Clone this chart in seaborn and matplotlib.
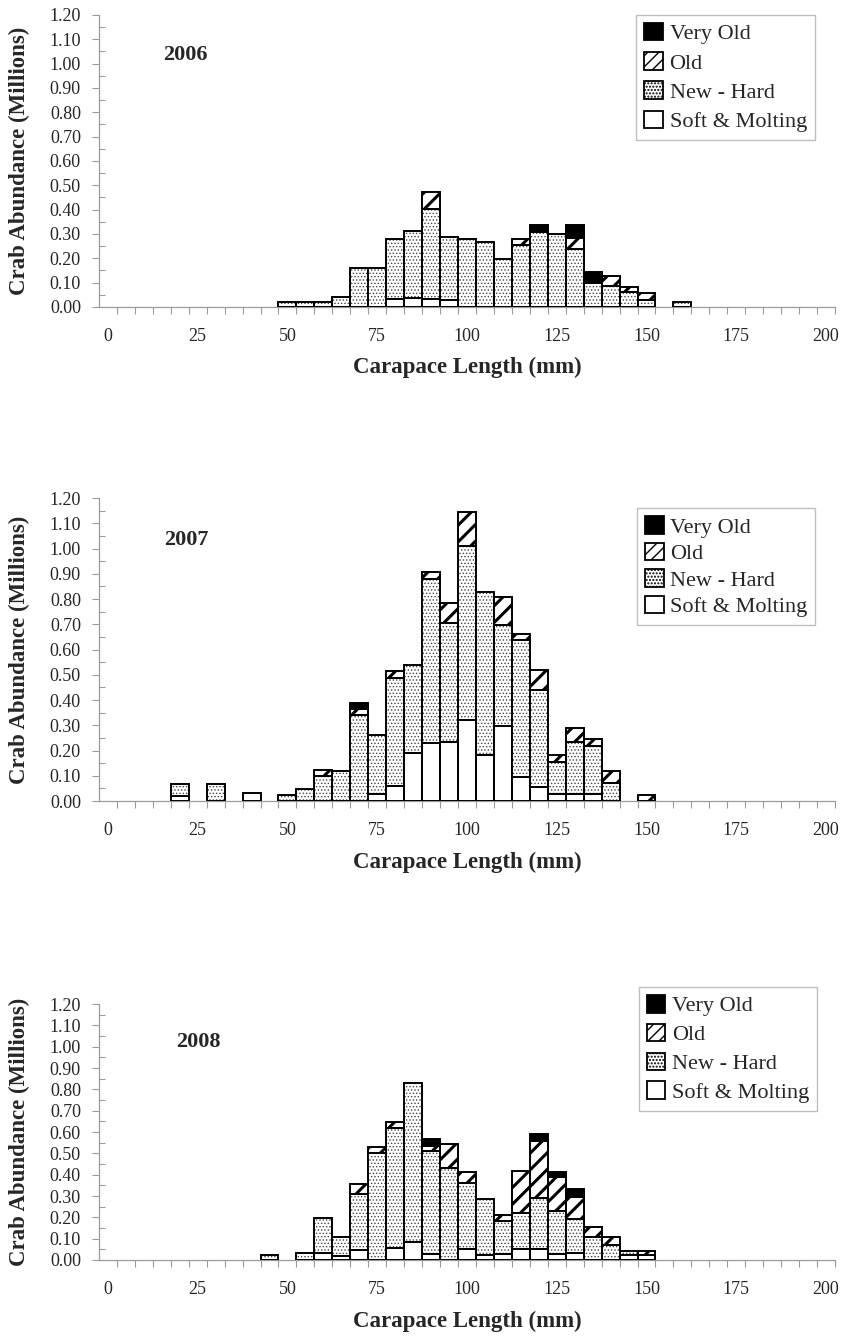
import matplotlib
matplotlib.use("Agg")
import numpy as np
import pandas as pd
import matplotlib.pyplot as plt
import matplotlib.patches as mpatches
from matplotlib.ticker import FormatStrFormatter
import seaborn as sns

# carapace length bins (mm, bin centres) and crab abundance (millions) by shell condition
len_2006 = [50, 55, 60, 65, 70, 75, 80, 85, 90, 95, 100, 105, 110, 115, 120, 125, 130, 135, 140, 145, 150, 160]
soft_2006 = [0, 0, 0, 0, 0, 0, .034, .037, .032, .027, 0, 0, 0, 0, 0, 0, 0, 0, 0, 0, 0, 0]
new_2006 = [.021, .021, .021, .041, .161, .161, .247, .277, .371, .259, .281, .268, .196, .255, .306, .301, .237, .099, .086, .061, .028, .021]
old_2006 = [0, 0, 0, 0, 0, 0, 0, 0, .069, 0, 0, 0, 0, .026, 0, 0, .046, 0, .041, .022, .028, 0]
vold_2006 = [0, 0, 0, 0, 0, 0, 0, 0, 0, 0, 0, 0, 0, 0, .029, 0, .052, .045, 0, 0, 0, 0]

len_2007 = [20, 30, 40, 50, 55, 60, 65, 70, 75, 80, 85, 90, 95, 100, 105, 110, 115, 120, 125, 130, 135, 140, 150]
soft_2007 = [.021, 0, .033, 0, 0, 0, 0, 0, .028, .061, .189, .228, .235, .321, .182, .297, .096, .054, .028, .028, .028, 0, 0]
new_2007 = [.045, .066, 0, .024, .046, .099, .119, .339, .233, .425, .350, .650, .469, .689, .647, .400, .541, .386, .128, .207, .192, .072, 0]
old_2007 = [0, 0, 0, 0, 0, .024, 0, .024, 0, .030, 0, .030, .079, .136, 0, .110, .024, .079, .026, .053, .026, .048, .024]
vold_2007 = [0, 0, 0, 0, 0, 0, 0, .026, 0, 0, 0, 0, 0, 0, 0, 0, 0, 0, 0, 0, 0, 0, 0]

len_2008 = [45, 55, 60, 65, 70, 75, 80, 85, 90, 95, 100, 105, 110, 115, 120, 125, 130, 135, 140, 145, 150]
soft_2008 = [0, 0, .034, .020, .047, 0, .055, .086, .028, 0, .050, .023, .028, .050, .050, .027, .031, 0, 0, .023, .023]
new_2008 = [.023, .031, .161, .089, .261, .500, .562, .742, .483, .433, .313, .261, .155, .169, .242, .204, .161, .106, .070, .021, 0]
old_2008 = [0, 0, 0, 0, .047, .031, .031, 0, .025, .109, .048, 0, .028, .200, .266, .156, .105, .050, .036, 0, .021]
vold_2008 = [0, 0, 0, 0, 0, 0, 0, 0, .030, 0, 0, 0, 0, 0, .031, .027, .034, 0, 0, 0, 0]

years = ["2006", "2007", "2008"]
data = {
    "2006": pd.DataFrame({"length": len_2006, "soft": soft_2006, "new": new_2006, "old": old_2006, "vold": vold_2006}),
    "2007": pd.DataFrame({"length": len_2007, "soft": soft_2007, "new": new_2007, "old": old_2007, "vold": vold_2007}),
    "2008": pd.DataFrame({"length": len_2008, "soft": soft_2008, "new": new_2008, "old": old_2008, "vold": vold_2008}),
}

sns.set_style("white")
plt.rcParams['font.family'] = ['Liberation Serif', 'DejaVu Serif']

# fill style per shell condition: facecolor, hatch, hatch colour, hatch width
style = {
    "soft": ("white", None, "black", 1.0),
    "new": ("white", ".....", "#444444", 0.6),
    "old": ("white", "//", "black", 2.2),
    "vold": ("black", None, "black", 1.0),
}
leg_hatch = {"soft": None, "new": ".....", "old": "///", "vold": None}
labels = {"vold": "Very Old", "old": "Old", "new": "New - Hard", "soft": "Soft & Molting"}

# axes boxes in figure fraction [left, bottom, width, height]
boxes = [
    [0.117, 0.7706, 0.870, 0.2182],
    [0.117, 0.4013, 0.870, 0.2265],
    [0.117, 0.0583, 0.870, 0.1913],
]
year_pos = [(0.118, 0.863), (0.118, 0.861), (0.135, 0.852)]
leg_pos = [(0.752, 0.9888), (0.753, 0.620), (0.755, 0.2623)]
leg_space = [0.35, 0.22, 0.33]

fig = plt.figure(figsize=(8.46, 13.38), dpi=100)

for i, yr in enumerate(years):
    df = data[yr]
    ax = fig.add_axes(boxes[i])
    bottom = np.zeros(len(df))
    for key in ["soft", "new", "old", "vold"]:
        vals = df[key].values
        keep = vals > 0
        fc, hatch, hc, hw = style[key]
        with plt.rc_context({'hatch.linewidth': hw}):
            bars = ax.bar(df["length"][keep], vals[keep], bottom=bottom[keep], width=5,
                          color=fc, edgecolor=hc, hatch=hatch, linewidth=0, zorder=2)
        for p in bars:
            if hasattr(p, "set_hatch_linewidth"):
                p.set_hatch_linewidth(hw)
        ax.bar(df["length"][keep], vals[keep], bottom=bottom[keep], width=5,
               fill=False, edgecolor="black", linewidth=1.4, zorder=3)
        bottom = bottom + vals

    ax.set_xlim(-2.5, 202.5)
    ax.set_ylim(0, 1.2)
    ax.set_xticks(np.arange(0, 201, 25))
    ax.set_xticks(np.arange(2.5, 203, 5), minor=True)
    ax.set_yticks(np.arange(0, 1.21, 0.1))
    ax.set_yticks(np.arange(0.05, 1.2, 0.1), minor=True)
    ax.yaxis.set_major_formatter(FormatStrFormatter('%.2f'))
    ax.tick_params(axis='x', which='major', length=0, pad=15, labelsize=13)
    ax.tick_params(axis='x', which='minor', length=5, width=0.8, color='#9a9a9a', direction='out', bottom=True)
    ax.tick_params(axis='y', which='major', length=5, width=0.8, color='#9a9a9a', direction='out', pad=8, labelsize=13, left=True)
    ax.tick_params(axis='y', which='minor', length=4, width=0.8, color='#9a9a9a', direction='in', left=True)
    sns.despine(ax=ax)
    for s in ["left", "bottom"]:
        ax.spines[s].set_color('#9a9a9a')
        ax.spines[s].set_linewidth(0.9)
    ax.set_xlabel("Carapace Length (mm)", fontsize=16.5, fontweight='bold', labelpad=9)
    ax.set_ylabel("Crab Abundance (Millions)", fontsize=16.5, fontweight='bold', labelpad=14)
    ax.text(year_pos[i][0], year_pos[i][1], yr, transform=ax.transAxes, fontsize=16,
            fontweight='bold', ha='center', va='center')

    handles = []
    for key in ["vold", "old", "new", "soft"]:
        fc, hatch, hc, hw = style[key]
        lw = min(hw, 1.6)
        with plt.rc_context({'hatch.linewidth': lw}):
            h = mpatches.Patch(facecolor=fc, edgecolor="black", hatch=leg_hatch[key],
                               linewidth=1.3, label=labels[key])
        if hasattr(h, "set_hatch_linewidth"):
            h.set_hatch_linewidth(lw)
        handles.append(h)
    leg = ax.legend(handles=handles, loc='upper left', bbox_to_anchor=leg_pos[i],
                    bbox_transform=fig.transFigure, fontsize=16, frameon=True,
                    fancybox=False, handlelength=0.85, handleheight=0.85,
                    handletextpad=0.3, labelspacing=leg_space[i], borderpad=0.35,
                    borderaxespad=0)
    leg.get_frame().set_edgecolor('#b0b0b0')
    leg.get_frame().set_linewidth(1.0)

fig.savefig("out.png", dpi=100)
